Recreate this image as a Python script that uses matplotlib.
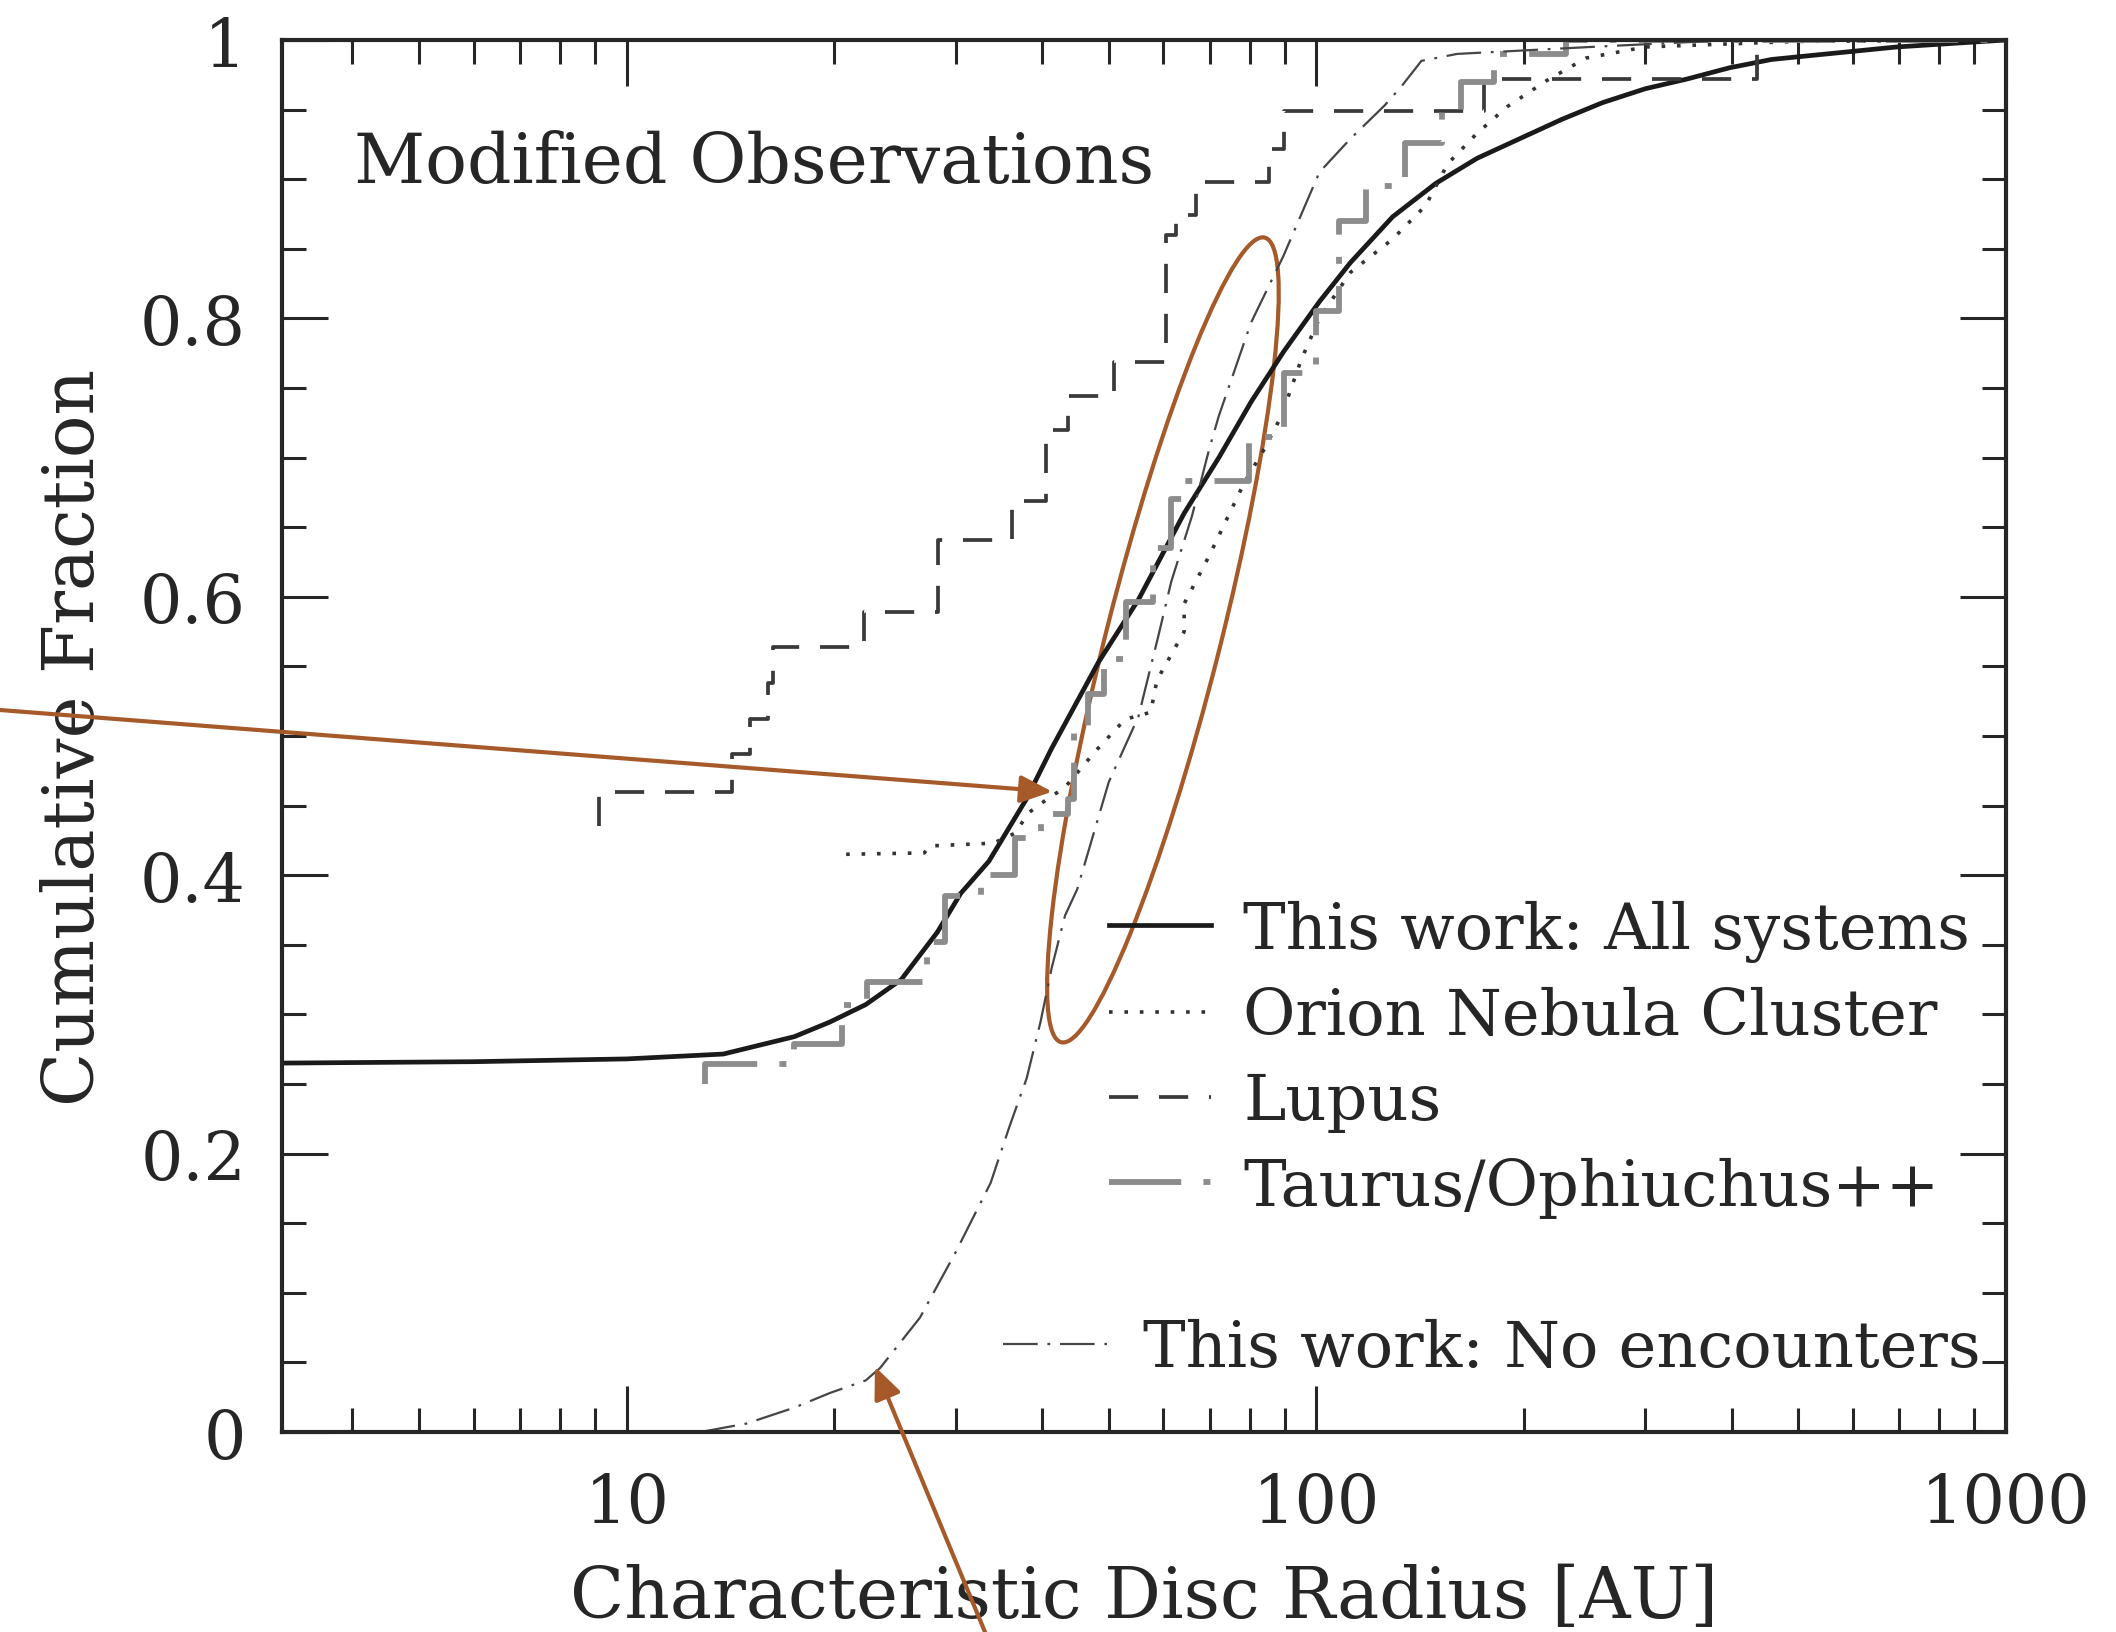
import matplotlib
matplotlib.use('Agg')
import matplotlib.pyplot as plt
from matplotlib.patches import Ellipse
from matplotlib.transforms import IdentityTransform
from matplotlib.ticker import FixedLocator, MultipleLocator, LogLocator, NullFormatter, FuncFormatter

plt.rcParams['font.family'] = 'DejaVu Serif'
plt.rcParams['lines.scale_dashes'] = False

# cumulative disc-radius distributions [AU]
all_x = [3.16, 6, 10, 13.8, 17.5, 19.7, 22.2, 25.0, 28.2, 30.5, 33.5, 38, 41.3, 48.3, 55.2,
         64.3, 72.2, 80.4, 89.6, 101, 112, 129, 149, 171, 197, 227, 260, 300, 345, 397,
         457, 525, 604, 695, 1000]
all_y = [0.265, 0.266, 0.268, 0.2715, 0.284, 0.2945, 0.307, 0.325, 0.359, 0.387, 0.41, 0.455,
         0.491, 0.553, 0.598, 0.66, 0.70, 0.74, 0.776, 0.812, 0.84, 0.873, 0.897, 0.915,
         0.929, 0.943, 0.955, 0.965, 0.972, 0.980, 0.986, 0.989, 0.992, 0.995, 1.0]

onc_x = [20.8, 27.0, 27.5, 34.0, 36.5, 38.3, 41.3, 43.0, 48.0, 52.8, 57.5, 58.7, 64.3, 64.3,
         70, 78.6, 84.0, 89.0, 95.0, 101, 112, 129, 144, 155, 171, 189, 216, 246, 300, 500, 1000]
onc_y = [0.415, 0.416, 0.421, 0.423, 0.43, 0.445, 0.457, 0.462, 0.49, 0.512, 0.517, 0.54,
         0.575, 0.595, 0.63, 0.682, 0.706, 0.73, 0.77, 0.80, 0.833, 0.857, 0.881, 0.911,
         0.933, 0.952, 0.971, 0.987, 0.995, 0.999, 1.0]

lupus_x = [9.1, 9.1, 14.2, 15.1, 16.0, 16.3, 22.1, 28.3, 36.2, 40.6, 43.7, 50.8, 60.6, 62.5,
           67.0, 85.3, 89.6, 175, 436, 1000]
lupus_y = [0.435, 0.46, 0.487, 0.512, 0.538, 0.564, 0.589, 0.641, 0.669, 0.72, 0.744, 0.769,
           0.86, 0.874, 0.898, 0.922, 0.949, 0.972, 1.0, 1.0]

taurus_x = [13.0, 13.0, 17.5, 20.5, 22.3, 27.2, 28.9, 32.6, 36.6, 39.9, 43.7, 44.5, 46.7, 49.2,
            52.9, 58.0, 61.6, 64.5, 79.8, 89.6, 100, 108, 118, 134.6, 152, 162, 181, 230, 1000]
taurus_y = [0.25, 0.264, 0.279, 0.307, 0.323, 0.352, 0.385, 0.40, 0.427, 0.444, 0.455, 0.504,
            0.53, 0.555, 0.596, 0.635, 0.670, 0.683, 0.715, 0.761, 0.805, 0.870, 0.895, 0.926,
            0.95, 0.970, 0.99, 1.0, 1.0]

noenc_x = [12.8, 14.9, 17.5, 19.7, 22.2, 23.3, 26.6, 29.9, 33.7, 35.8, 38.0, 39.8, 41.3, 43.2,
           45.0, 50.0, 55.2, 59.0, 61.6, 66.0, 69.9, 72.2, 80.4, 89.6, 101, 112, 125.6, 133,
           142, 160, 250, 400]
noenc_y = [0.0, 0.006, 0.0175, 0.028, 0.037, 0.046, 0.082, 0.128, 0.179, 0.218, 0.254, 0.2945,
           0.333, 0.371, 0.39, 0.467, 0.514, 0.572, 0.611, 0.658, 0.706, 0.73, 0.797, 0.845,
           0.905, 0.929, 0.953, 0.967, 0.985, 0.99, 0.995, 1.0]

ink = '#262626'
orange = '#a65a2a'

fig = plt.figure(figsize=(21.16, 16.33), dpi=100)
ax = fig.add_axes([0.1333, 0.1225, 0.8147, 0.8524])

l_all, = ax.plot(all_x, all_y, color='#1a1a1a', lw=3.4, label='This work: All systems')
l_onc, = ax.plot(onc_x, onc_y, color='#333333', lw=2.6, ls=(0, (2.6, 8.5)),
                 dash_capstyle='butt', label='Orion Nebula Cluster')
l_lup, = ax.plot(lupus_x, lupus_y, color='#3a3a3a', lw=2.7, ls=(0, (21, 15)),
                 drawstyle='steps-post', label='Lupus')
l_tau, = ax.plot(taurus_x, taurus_y, color='#8c8c8c', lw=4.2, ls=(0, (52, 16, 5, 16)),
                 drawstyle='steps-post', label='Taurus/Ophiuchus++')
l_noe, = ax.plot(noenc_x, noenc_y, color='#454545', lw=1.6, ls=(0, (25, 7, 2, 7)),
                 label='This work: No encounters')

ax.set_xscale('log')
ax.set_xlim(10 ** 0.5, 1000)
ax.set_ylim(0, 1)

ax.xaxis.set_major_locator(FixedLocator([10, 100, 1000]))
ax.xaxis.set_minor_locator(LogLocator(base=10, subs=range(2, 10), numticks=20))
ax.xaxis.set_major_formatter(FuncFormatter(lambda v, p: f'{v:g}'))
ax.xaxis.set_minor_formatter(NullFormatter())
ax.yaxis.set_major_locator(MultipleLocator(0.2))
ax.yaxis.set_minor_locator(MultipleLocator(0.05))
ax.yaxis.set_major_formatter(FuncFormatter(lambda v, p: f'{v:g}'))

ax.tick_params(which='both', direction='in', top=True, right=True, color=ink, width=2.2,
               labelcolor=ink)
ax.tick_params(which='major', length=33, labelsize=48)
ax.tick_params(axis='x', which='major', pad=28)
ax.tick_params(axis='y', which='major', pad=26)
ax.tick_params(which='minor', length=17)
for s in ax.spines.values():
    s.set_linewidth(3)
    s.set_color(ink)

ax.set_xlabel('Characteristic Disc Radius [AU]', fontsize=51, color=ink)
ax.set_ylabel('Cumulative Fraction', fontsize=51, color=ink)
ax.xaxis.set_label_coords(0.5, -0.094)
ax.yaxis.label.set_verticalalignment('center')
ax.yaxis.set_label_coords(-0.1205, 0.5)

ax.text(0.042, 0.9115, 'Modified Observations', transform=ax.transAxes, fontsize=50,
        color=ink, va='center', ha='left')

leg1 = ax.legend(handles=[l_all, l_onc, l_lup, l_tau], loc='upper left',
                 bbox_to_anchor=(0.4797, 0.3825), frameon=False, fontsize=46,
                 handlelength=1.6, handletextpad=0.5, labelspacing=0.38,
                 borderpad=0, borderaxespad=0, labelcolor=ink)
ax.add_artist(leg1)
ax.legend(handles=[l_noe], loc='upper left', bbox_to_anchor=(0.418, 0.082),
          frameon=False, fontsize=46, handlelength=1.64, handletextpad=0.55,
          borderpad=0, borderaxespad=0, labelcolor=ink)

# highlight: ellipse round the steep part, arrows to two features
cx, cy = ax.transData.transform((59.9, 0.569))
ax.add_patch(Ellipse((cx, cy), 830, 114, angle=75.8, transform=IdentityTransform(),
                     fill=False, ec=orange, lw=3, clip_on=False))
arrow = dict(arrowstyle='-|>,head_length=0.65,head_width=0.28', color=orange, lw=3,
             mutation_scale=30, shrinkA=0, shrinkB=0)
ax.annotate('', xy=(41.4, 0.46), xycoords='data', xytext=(0.0, 0.5646),
            textcoords='figure fraction', arrowprops=arrow, annotation_clip=False)
ax.annotate('', xy=(22.9, 0.047), xycoords='data', xytext=(0.4655, 0.0),
            textcoords='figure fraction', arrowprops=arrow, annotation_clip=False)

fig.savefig('out.png', dpi=100)
